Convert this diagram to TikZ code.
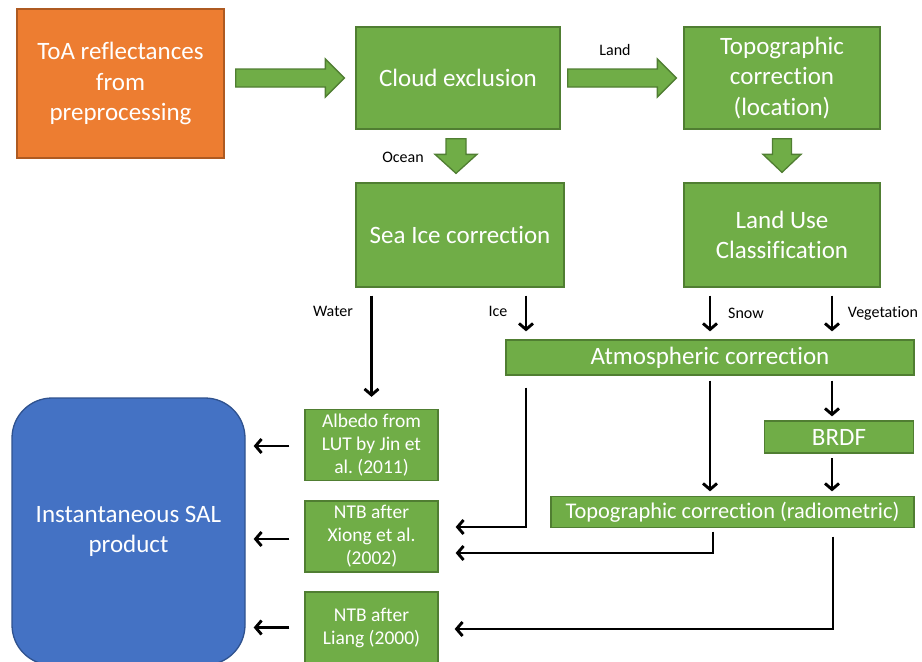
\documentclass[tikz,border=0pt]{standalone}
\usepackage{fontspec}
\setmainfont{Carlito}[Ligatures={NoCommon}]
\usetikzlibrary{arrows.meta,calc}
\definecolor{gfill}{HTML}{70AD47}
\definecolor{gline}{HTML}{507E32}
\definecolor{ofill}{HTML}{ED7D31}
\definecolor{oline}{HTML}{AE5A21}
\definecolor{bfill}{HTML}{4472C4}
\definecolor{bline}{HTML}{2F528F}
\frenchspacing
\begin{document}
\begin{tikzpicture}[x=1pt,y=-1pt,
  box/.style={draw=gline, fill=gfill, line width=1.3pt, text=white, align=center, inner sep=0pt},
  big/.style={font=\fontsize{25}{30.5}\selectfont},
  mid/.style={font=\fontsize{25}{28}\selectfont},
  small/.style={font=\fontsize{19.5}{23}\selectfont},
  lbl/.style={font=\fontsize{16}{18}\selectfont, text=black},
  arr/.style={line width=2.9pt, -{Straight Barb[length=6pt,width=14pt]}},
  blk/.style={draw=gline, fill=gfill, line width=1.3pt, line join=miter}
]
\useasboundingbox (0,0) rectangle (922,662);
\clip (0,0) rectangle (922,662);

% boxes
\node[box, big, draw=oline, fill=ofill, minimum width=207pt, minimum height=149pt] (toa) at (120.5,83.5) {ToA reflectances\\from\\preprocessing};
\node[box, big, minimum width=204pt, minimum height=102pt] (cloud) at (458,78) {Cloud exclusion};
\node[box, big, minimum width=196pt, minimum height=102pt] (topo) at (782,78) {Topographic\\correction\\(location)};
\node[box, big, minimum width=208pt, minimum height=104pt] (sea) at (460,235) {Sea Ice correction};
\node[box, big, minimum width=196pt, minimum height=104pt] (landuse) at (782,235) {Land Use\\Classification};
\node[box, mid, minimum width=408pt, minimum height=35pt] (atm) at (710,357.5) {Atmospheric correction};
\node[box, mid, minimum width=149pt, minimum height=32pt] (brdf) at (839,437) {BRDF};
\node[box, font=\fontsize{22.4}{26}\selectfont, minimum width=363pt, minimum height=31pt] (toporad) at (732.5,512) {Topographic correction (radiometric)};
\node[box, small, minimum width=133pt, minimum height=71pt] (albedo) at (371.5,445) {Albedo from\\LUT by Jin et\\al. (2011)};
\node[box, small, minimum width=133pt, minimum height=71pt] (xiong) at (371.5,536.5) {NTB after\\Xiong et al.\\(2002)};
\node[box, small, minimum width=133pt, minimum height=71pt] (liang) at (371.5,627.5) {NTB after\\Liang (2000)};
\node[box, big, draw=bline, fill=bfill, rounded corners=40pt, minimum width=233pt, minimum height=267pt] (sal) at (128.5,531.5) {Instantaneous SAL\\product};

% block arrows (horizontal)
\draw[blk] let \p1=($(toa.east|-cloud.west)+(11,0)$), \p2=($(cloud.west)+(-11,0)$) in
  (\x1,\y1+9pt) -- (\x2-19pt,\y1+9pt) -- (\x2-19pt,\y1+19pt) -- (\x2,\y1) -- (\x2-19pt,\y1-19pt) -- (\x2-19pt,\y1-9pt) -- (\x1,\y1-9pt) -- cycle;
\draw[blk] let \p1=($(cloud.east)+(7,0)$), \p2=($(topo.west)+(-7,0)$) in
  (\x1,\y1+9pt) -- (\x2-19pt,\y1+9pt) -- (\x2-19pt,\y1+19pt) -- (\x2,\y1) -- (\x2-19pt,\y1-19pt) -- (\x2-19pt,\y1-9pt) -- (\x1,\y1-9pt) -- cycle;
% block arrows (vertical)
\draw[blk] let \p1=($(cloud.south)+(-2,9)$), \p2=($(sea.north -| cloud.south)+(-2,-9)$) in
  (\x1-10pt,\y1) -- (\x1+10pt,\y1) -- (\x1+10pt,\y2+19pt) -- (\x1+21pt,\y2+19pt) -- (\x1,\y2) -- (\x1-21pt,\y2+19pt) -- (\x1-10pt,\y2+19pt) -- cycle;
\draw[blk] let \p1=($(topo.south)+(0,9)$), \p2=($(landuse.north)+(0,-10)$) in
  (\x1-9.5pt,\y1) -- (\x1+9.5pt,\y1) -- (\x1+9.5pt,\y2+18pt) -- (\x1+19pt,\y2+18pt) -- (\x1,\y2) -- (\x1-19pt,\y2+18pt) -- (\x1-9.5pt,\y2+18pt) -- cycle;

% labels
\node[lbl] (lland) at (615,50) {Land};
\node[lbl] (locean) at (403,157) {Ocean};
\node[lbl] (lwater) at (333,311) {Water};
\node[lbl] (lice) at (498,311) {Ice};
\node[lbl] (lsnow) at (746,313) {Snow};
\node[lbl] (lveg) at (883,313) {Vegetation};

% helper coordinates
\coordinate (icex) at ($(sea.south)+(66,0)$);
\coordinate (snowx) at ($(landuse.south)+(-72,0)$);
\coordinate (vegx) at ($(landuse.south)+(50,0)$);

% black arrows
\draw[arr] ($(sea.south -| albedo.north)+(0,8)$) -- ($(albedo.north)+(0,-12)$);
\draw[arr] ($(icex)+(0,8)$) -- ($(atm.north -| icex)+(0,-8)$);
\draw[arr] ($(snowx)+(0,8)$) -- ($(atm.north -| snowx)+(0,-8)$);
\draw[arr] ($(vegx)+(0,8)$) -- ($(atm.north -| vegx)+(0,-8)$);

\draw[arr] ($(atm.south -| icex)+(0,12)$) |- ($(xiong.east)+(17,-9.5)$);
\draw[arr] ($(atm.south -| snowx)+(0,5)$) -- ($(toporad.north -| snowx)+(0,-4.5)$);
\draw[arr] ($(atm.south -| vegx)+(0,5)$) -- ($(brdf.north -| vegx)+(0,-4)$);
\draw[arr] ($(brdf.south -| vegx)+(0,4.5)$) -- ($(toporad.north -| vegx)+(0,-4.5)$);
\draw[arr] ($(toporad.south)+(-19.5,3.5)$) |- ($(xiong.east)+(17,16.5)$);
\draw[arr] ($(toporad.south -| vegx)+(1,8.5)$) |- ($(liang.east)+(16,1.5)$);

\draw[arr] ($(albedo.west)+(-15,1)$) -- ($(sal.east |- albedo.west)+(8,1)$);
\draw[arr] ($(xiong.west)+(-15,2.5)$) -- ($(sal.east |- xiong.west)+(8,2.5)$);
\draw[arr] ($(liang.west)+(-15,0)$) -- ($(sal.east |- liang.west)+(8,0)$);
\end{tikzpicture}
\end{document}
